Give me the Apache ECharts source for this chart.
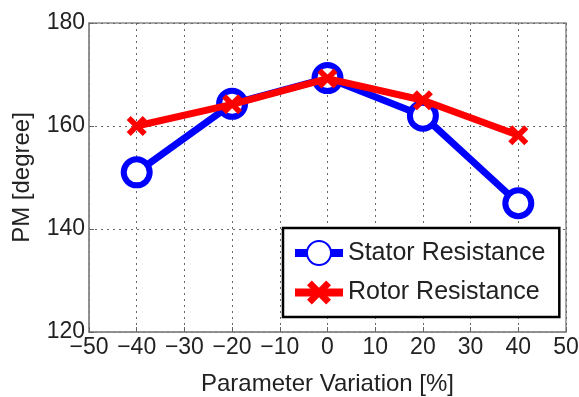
<!DOCTYPE html>
<html><head><meta charset="utf-8">
<script src="https://cdn.jsdelivr.net/npm/echarts@6/dist/echarts.min.js"></script>
<style>html,body{margin:0;padding:0;background:#fff}#c{width:579px;height:397px}</style>
</head><body><div id="c"></div>
<script>
const xValues = [-40, -20, 0, 20, 40];
const statorValues = [151, 164.3, 169.3, 162, 145];
const rotorValues = [160, 164.2, 169.2, 165, 158.2];
const seriesNames = ['Stator Resistance', 'Rotor Resistance'];
const xTitle = 'Parameter Variation [%]';
const yTitle = 'PM [degree]';

const font = 'Liberation Sans';
const xPath = 'path://M2,0 L5,3 L8,0 L10,2 L7,5 L10,8 L8,10 L5,7 L2,10 L0,8 L3,5 L0,2 Z';
const chart = echarts.init(document.getElementById('c'));
chart.setOption({
  animation: false,
  backgroundColor: '#fff',
  grid: {left: 89, right: 13, top: 23, bottom: 65, show: true, borderColor: '#8a8a8a', borderWidth: 1.5,
         outerBoundsMode: 'none', containLabel: false},
  xAxis: {
    type: 'value', min: -50, max: 50, interval: 10,
    name: xTitle, nameLocation: 'middle', nameGap: 40,
    nameTextStyle: {fontFamily: font, fontSize: 24, color: '#222'},
    axisLine: {onZero: false, lineStyle: {color: '#8a8a8a', width: 1.5}},
    axisTick: {inside: true, length: 5, lineStyle: {color: '#666'}},
    axisLabel: {fontFamily: font, fontSize: 23, color: '#222', margin: 4,
      formatter: v => String(v).replace('-', '\u2212')},
    splitLine: {show: true, lineStyle: {type: [2, 4], color: '#666', width: 1}}
  },
  yAxis: {
    type: 'value', min: 120, max: 180, interval: 20,
    name: yTitle, nameLocation: 'middle', nameGap: 55, nameRotate: 90,
    nameTextStyle: {fontFamily: font, fontSize: 24, color: '#222'},
    axisLine: {onZero: false, lineStyle: {color: '#8a8a8a', width: 1.5}},
    axisTick: {inside: true, length: 5, lineStyle: {color: '#666'}},
    axisLabel: {fontFamily: font, fontSize: 23, color: '#222', margin: 4},
    splitLine: {show: true, lineStyle: {type: [2, 4], color: '#666', width: 1}}
  },
  legend: {
    orient: 'vertical', left: 283, top: 228,
    padding: [12, 14, 12, 8], itemGap: 14, itemWidth: 48, itemHeight: 30,
    borderColor: '#000', borderWidth: 2.5, backgroundColor: '#fff',
    textStyle: {fontFamily: font, fontSize: 25, color: '#222'},
    lineStyle: {width: 8},
    data: seriesNames
  },
  series: [
    {name: seriesNames[0], type: 'line', data: xValues.map((x, i) => [x, statorValues[i]]),
     lineStyle: {color: '#0000ff', width: 7}, itemStyle: {color: '#fff', borderColor: '#0000ff', borderWidth: 6},
     symbol: 'circle', symbolSize: 26, z: 2},
    {name: seriesNames[1], type: 'line', data: xValues.map((x, i) => [x, rotorValues[i]]),
     lineStyle: {color: '#ff0000', width: 7}, itemStyle: {color: '#ff0000'},
     symbol: xPath, symbolSize: 20, z: 3}
  ]
});
</script></body></html>
